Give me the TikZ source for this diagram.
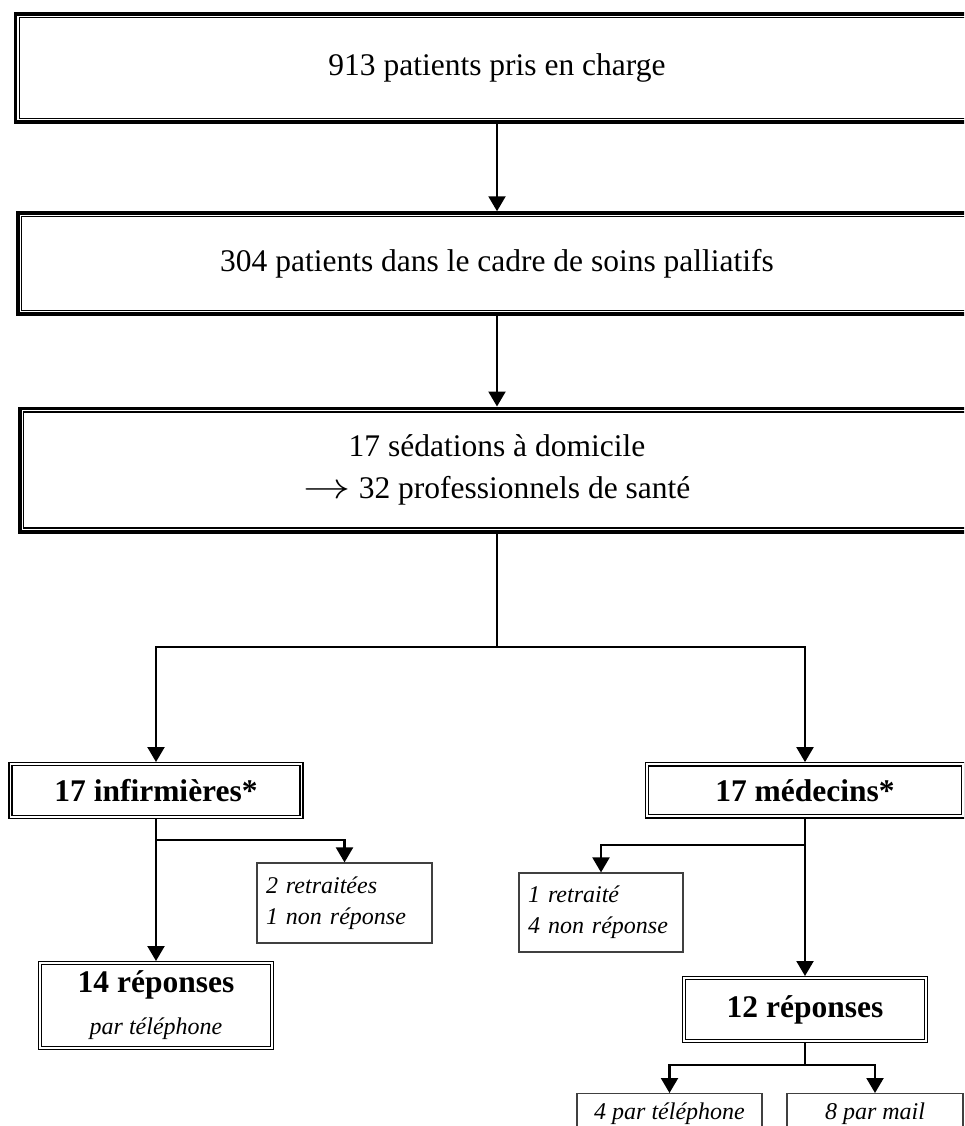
\RequirePackage{fix-cm}
\documentclass[tikz,border=0pt]{standalone}
\usepackage{fontspec}
\usepackage{graphicx}
\setmainfont{Liberation Serif}
\usetikzlibrary{arrows.meta}
\begin{document}
\begin{tikzpicture}[x=1pt,y=-1pt,
  big/.style={font=\fontsize{31.5}{42}\selectfont, align=center},
  topbox/.style={draw, rectangle, line width=3.5pt, inner sep=0pt, big},
  innerline/.style={line width=1.2pt},
  dblbox/.style={draw, rectangle, double, line width=1.3pt, double distance=1.8pt, outer sep=2.2pt, inner sep=0pt, font=\fontsize{31.5}{42}\selectfont\bfseries, align=center},
  smallbox/.style={draw=black!75, rectangle, line width=1.2pt, inner sep=0pt, font=\fontsize{24}{31}\selectfont\itshape},
  conn/.style={line width=2.2pt},
  arr/.style={conn, -{Triangle[width=17pt,length=15pt]}},
]
\useasboundingbox (0,0) rectangle (964,1126);
\clip (0,0) rectangle (964,1126);

% top boxes
\node[topbox, minimum width=963pt, minimum height=108pt] (b1) at (497,68) {913 patients pris en charge};
\node[topbox, minimum width=958pt, minimum height=101pt] (b2) at (497,263.5) {304 patients dans le cadre de soins palliatifs};
\node[topbox, minimum width=954pt, minimum height=123.5pt] (b3) at (497,470) {17 sédations à domicile\\\scalebox{1.5}[1.15]{$\rightarrow$} 32 professionnels de santé};
\foreach \b in {b1,b2,b3}{
  \draw[innerline] ([xshift=5.5pt,yshift=-5.5pt]\b.north west) rectangle ([xshift=-5.5pt,yshift=5.5pt]\b.south east);
}

% second level
\node[dblbox, minimum width=291pt, minimum height=52.6pt] (inf) at (156,790.5) {17 infirmières*};
\node[dblbox, minimum width=315.6pt, minimum height=52pt] (med) at (805,790.3) {17 médecins*};

% left branch
\node[dblbox, minimum width=232pt, minimum height=84.6pt] (r14) at (156,1005.5) {14 réponses\\[0pt]{\fontsize{24}{31}\selectfont\itshape\mdseries par téléphone}};
\node[smallbox, minimum width=175pt, minimum height=80pt, align=left, text width=157pt] (ret1) at (344.5,903) {2 retraitées\\1 non réponse};

% right branch
\node[smallbox, minimum width=164pt, minimum height=79pt, align=left, text width=146pt] (ret2) at (601,912.5) {1 retraité\\4 non réponse};
\node[dblbox, minimum width=241.6pt, minimum height=62.6pt] (r12) at (805,1009.5) {12 réponses};
\node[smallbox, minimum width=185pt, minimum height=40pt, anchor=north] (tel) at (669.5,1093) {4 par téléphone};
\node[smallbox, minimum width=176pt, minimum height=40pt, anchor=north] (mail) at (875,1093) {8 par mail};

% connectors
\draw[arr] (b1.south) -- (b2.north);
\draw[arr] (b2.south) -- (b3.north);
\coordinate (j1) at (497,647);
\draw[conn] (b3.south) -- (j1);
\draw[arr] (j1) -| (inf.north);
\draw[arr] (j1) -| (med.north);

\coordinate (j2) at (156,840);
\draw[arr] (inf.south) -- (r14.north);
\draw[arr] (j2) -| (ret1.north);

\coordinate (j3) at (805,845);
\draw[arr] (med.south) -- (r12.north);
\draw[arr] (j3) -| (ret2.north);

\coordinate (j4) at (805,1065);
\draw[conn] (r12.south) -- (j4);
\draw[arr] (j4) -| (tel.north);
\draw[arr] (j4) -| (mail.north);
\end{tikzpicture}
\end{document}
